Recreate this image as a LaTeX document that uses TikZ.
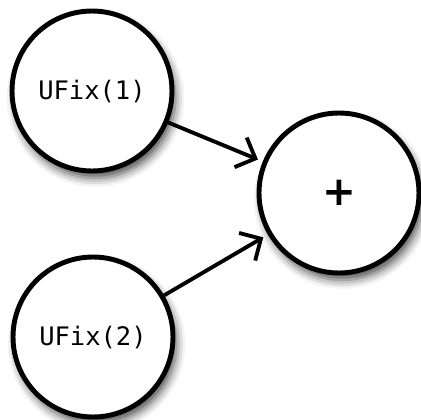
\documentclass[tikz,border=0pt]{standalone}
\usepackage{fontspec}
\setmonofont{DejaVu Sans Mono}
\setsansfont{DejaVu Sans}
\usetikzlibrary{arrows.meta,shadows.blur}

\begin{document}
\begin{tikzpicture}[
  x=0.02cm, y=-0.02cm,
  opnode/.style={
    circle, draw=black, fill=white, line width=2.8pt,
    minimum size=3.2cm, inner sep=0pt,
    font=\ttfamily\fontsize{14.5}{16}\selectfont,
    blur shadow={shadow xshift=2pt, shadow yshift=-4pt,
      shadow blur radius=5pt, shadow opacity=70}},
  flow/.style={-{Straight Barb[length=3.2mm,width=6.4mm]}, line width=2.2pt,
    shorten >=3pt}
]
\useasboundingbox (0,0) rectangle (420,420);

% ---- operands and operator ----
\node[opnode] (ufixA) at (92,91)  {UFix(1)};
\node[opnode] (ufixB) at (93,337) {UFix(2)};
\node[opnode, font=\sffamily\bfseries\fontsize{23}{25}\selectfont] (plus) at (339,193) {+};

% ---- connectors ----
\foreach \a in {ufixA, ufixB} {\draw[flow] (\a) -- (plus);}

\end{tikzpicture}
\end{document}
